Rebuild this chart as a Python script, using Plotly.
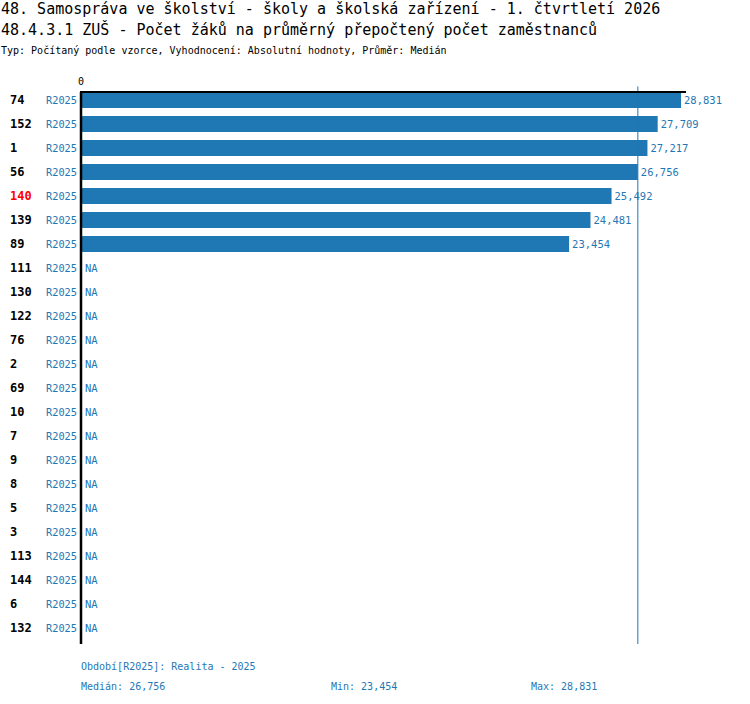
import numpy as np
import plotly.graph_objects as go

# data
row_ids = ['74', '152', '1', '56', '140', '139', '89', '111', '130', '122', '76', '2',
           '69', '10', '7', '9', '8', '5', '3', '113', '144', '6', '132']
values = [28.831, 27.709, 27.217, 26.756, 25.492, 24.481, 23.454] + [None] * 16
period = 'R2025'
highlight_id = '140'

title_1 = '48. Samospráva ve školství - školy a školská zařízení - 1. čtvrtletí 2026'
title_2 = '48.4.3.1 ZUŠ - Počet žáků na průměrný přepočtený počet zaměstnanců'
title_3 = 'Typ: Počítaný podle vzorce, Vyhodnocení: Absolutní hodnoty, Průměr: Medián'
period_note = 'Období[R2025]: Realita - 2025'

BLUE = '#1f77b4'
MONO = 'DejaVu Sans Mono'

# plot area in pixels
L, R, T, B = 81, 686, 92, 644
W, H = 750, 704

rows = list(range(len(row_ids)))
known = [v for v in values if v is not None]
median = float(np.median(known))
vmin, vmax = min(known), max(known)


def fmt(v):
    return f'{v:.3f}'.replace('.', ',')


def px_x(px):
    return (px - L) / (R - L)


def px_y(py):
    return (B - py) / (B - T)


fig = go.Figure()

fig.add_trace(go.Bar(
    x=values, y=rows, orientation='h', width=0.6667,
    marker=dict(color=BLUE, line=dict(width=0)),
    text=[fmt(v) if v is not None else '' for v in values],
    textposition='outside', constraintext='none', cliponaxis=False,
    textfont=dict(family=MONO, size=10.5, color=BLUE),
    hoverinfo='skip',
))

annotations = []
for r, (rid, v) in enumerate(zip(row_ids, values)):
    annotations.append(dict(
        x=px_x(8), y=r, xref='paper', yref='y', text=f'<b>{rid}</b>', showarrow=False,
        xanchor='left', font=dict(family=MONO, size=12,
                                  color='red' if rid == highlight_id else 'black')))
    annotations.append(dict(
        x=px_x(79), y=r, xref='paper', yref='y', text=period, showarrow=False,
        xanchor='right', font=dict(family=MONO, size=10.3, color=BLUE)))
    if v is None:
        annotations.append(dict(
            x=0, y=r, xref='x', yref='y', text='NA', showarrow=False, xshift=2,
            xanchor='left', font=dict(family=MONO, size=10.5, color=BLUE)))

# titles
for txt, ypx, size in [(title_1, 9, 15), (title_2, 30, 15), (title_3, 50, 10)]:
    annotations.append(dict(
        x=px_x(-1), y=px_y(ypx), xref='paper', yref='paper', xanchor='left',
        yanchor='middle', text=txt, showarrow=False,
        font=dict(family=MONO, size=size, color='black')))

# footer
for txt, xpx, ypx in [(period_note, 79, 666),
                      ('Medián: ' + fmt(median), 79, 686),
                      ('Min: ' + fmt(vmin), 329, 686),
                      ('Max: ' + fmt(vmax), 529, 686)]:
    annotations.append(dict(
        x=px_x(xpx), y=px_y(ypx), xref='paper', yref='paper', xanchor='left',
        yanchor='middle', text=txt, showarrow=False,
        font=dict(family=MONO, size=10, color=BLUE)))

shapes = [
    # median marker
    dict(type='line', xref='x', yref='paper', x0=median, x1=median,
         y0=0, y1=1.01, line=dict(color=BLUE, width=1)),
    # axis lines, centred on the plot edges (paper refs so they are not clipped)
    dict(type='line', xref='paper', yref='paper', x0=px_x(80), x1=1, y0=1, y1=1,
         line=dict(color='black', width=2)),
    dict(type='line', xref='paper', yref='paper', x0=0, x1=0, y0=0, y1=1,
         line=dict(color='black', width=2.5)),
]

fig.update_layout(
    width=W, height=H,
    margin=dict(l=L, r=W - R, t=T, b=H - B),
    paper_bgcolor='white', plot_bgcolor='white',
    showlegend=False,
    annotations=annotations,
    shapes=shapes,
    xaxis=dict(range=[0, 29.07], side='top', tickvals=[0], ticktext=['0'],
               showgrid=False, zeroline=False, showline=False, ticks='',
               ticklabelstandoff=4,
               tickfont=dict(family=MONO, size=10, color='black')),
    yaxis=dict(range=[22.6667, -0.3333], showticklabels=False, ticks='',
               showgrid=False, zeroline=False, showline=False),
)

# no modebar, and drop the default 8px body margin so the figure sits at the window corner
fig.write_html('out.html', config={'displayModeBar': False},
               post_script="document.body.style.margin='0';")
